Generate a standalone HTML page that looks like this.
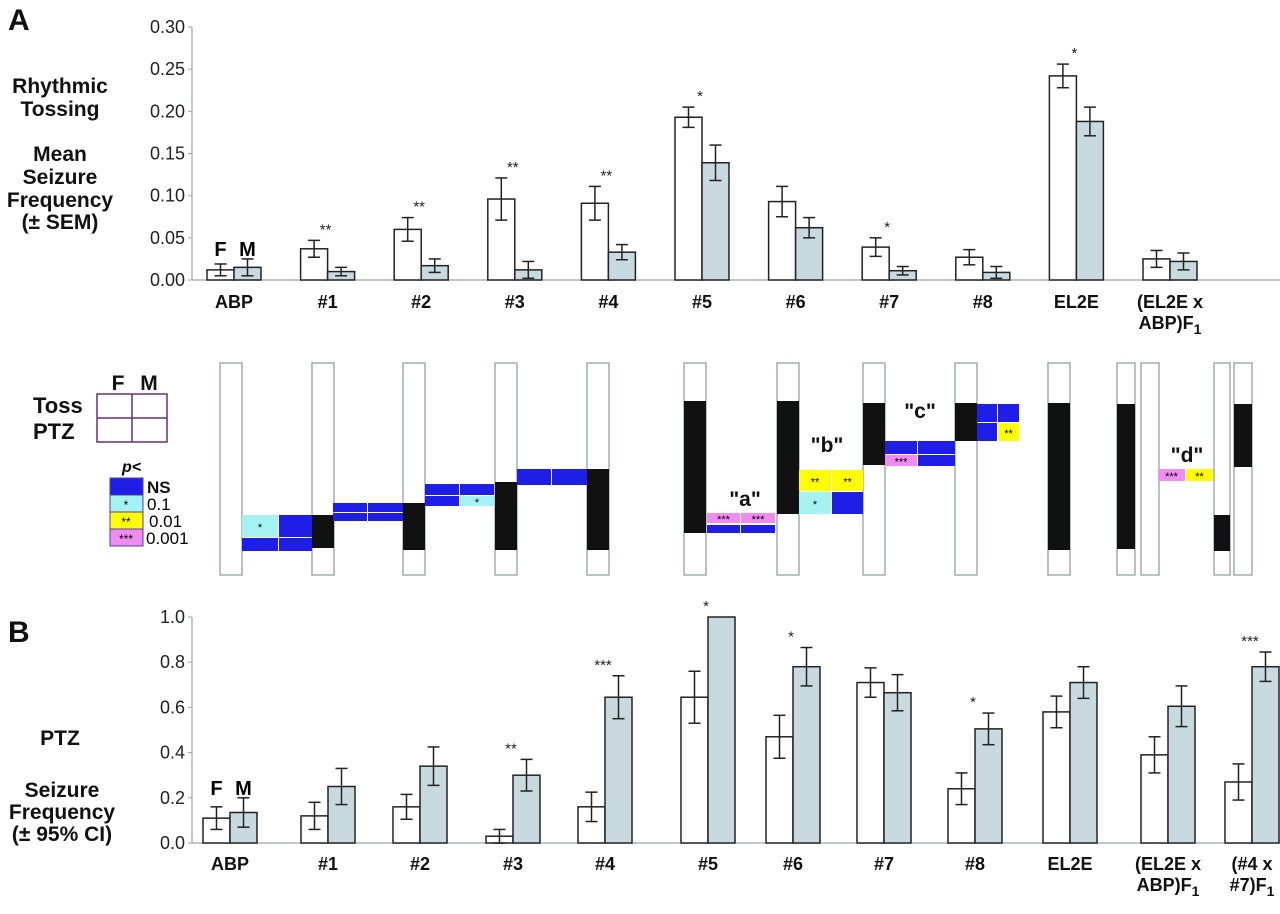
<!DOCTYPE html>
<html><head><meta charset="utf-8"><style>
body{margin:0;background:#fff;}
svg{display:block;font-family:"Liberation Sans",sans-serif;}
.t{font-weight:bold;fill:#111;}
</style></head><body>
<svg id="fig" width="1280" height="914" viewBox="0 0 1280 914">
<text x="8" y="30" class="t" font-size="30">A</text>
<text x="8" y="642" class="t" font-size="30">B</text>
<g class="t" font-size="21" text-anchor="middle">
<text x="60" y="93">Rhythmic</text><text x="60" y="116">Tossing</text>
<text x="60" y="161">Mean</text><text x="60" y="184">Seizure</text><text x="60" y="207">Frequency</text><text x="60" y="229">(± SEM)</text></g>
<g class="t" font-size="21" text-anchor="middle">
<text x="60" y="745">PTZ</text><text x="62" y="797">Seizure</text><text x="62" y="819">Frequency</text><text x="62" y="841">(± 95% CI)</text></g>
<g id="gA"></g><g id="gB"></g><g id="gM"></g>
<g>
<text x="118" y="390" class="t" font-size="21" text-anchor="middle">F</text><text x="149" y="390" class="t" font-size="21" text-anchor="middle">M</text>
<text x="33" y="413" class="t" font-size="22">Toss</text><text x="33" y="439" class="t" font-size="22">PTZ</text>
<rect x="97" y="394" width="70" height="48" fill="none" stroke="#63307a" stroke-width="1.5"/>
<line x1="132" y1="394" x2="132" y2="442" stroke="#63307a" stroke-width="1.5"/>
<line x1="97" y1="418" x2="167" y2="418" stroke="#63307a" stroke-width="1.5"/>
<text x="122" y="472" font-size="16" font-style="italic" font-weight="bold">p&lt;</text>
<rect x="110" y="478" width="33" height="17" fill="#1e1ee6" stroke="#5040a0"/><text x="147" y="493" class="t" font-size="17">NS</text>
<rect x="110" y="495" width="33" height="17" fill="#a4f2f2" stroke="#5040a0"/><text x="126" y="509" font-size="12" text-anchor="middle">*</text><text x="147" y="510" font-size="17">0.1</text>
<rect x="110" y="512" width="33" height="17" fill="#ffff00" stroke="#5040a0"/><text x="126" y="526" font-size="12" text-anchor="middle">**</text><text x="149" y="527" font-size="17">0.01</text>
<rect x="110" y="529" width="33" height="17" fill="#f08cf0" stroke="#5040a0"/><text x="126" y="543" font-size="12" text-anchor="middle">***</text><text x="146" y="544" font-size="17">0.001</text>
</g>
</svg>
<script>
const catsA=["ABP","#1","#2","#3","#4","#5","#6","#7","#8","EL2E","(EL2E x|ABP)F1"];
const femA=[0.012,0.037,0.060,0.096,0.091,0.193,0.093,0.039,0.027,0.242,0.025];
const femErrA=[0.007,0.010,0.014,0.025,0.020,0.012,0.018,0.011,0.009,0.014,0.010];
const maleA=[0.015,0.010,0.017,0.012,0.033,0.139,0.062,0.011,0.009,0.188,0.022];
const maleErrA=[0.010,0.005,0.008,0.010,0.009,0.021,0.012,0.005,0.007,0.017,0.010];
const starsA=["","**","**","**","**","*","","*","","*",""];
const ticksA=["0.00","0.05","0.10","0.15","0.20","0.25","0.30"];
const catsB=["ABP","#1","#2","#3","#4","#5","#6","#7","#8","EL2E","(EL2E x|ABP)F1","(#4 x|#7)F1"];
const femB=[0.11,0.12,0.16,0.03,0.16,0.645,0.47,0.71,0.24,0.58,0.39,0.27];
const femErrB=[0.05,0.06,0.055,0.03,0.065,0.115,0.095,0.065,0.07,0.07,0.08,0.08];
const maleB=[0.135,0.25,0.34,0.30,0.645,1.0,0.78,0.665,0.505,0.71,0.605,0.78];
const maleErrB=[0.065,0.08,0.085,0.07,0.095,0,0.085,0.08,0.07,0.07,0.09,0.065];
const starsB=["","","","**","***","*","*","","*","","","***"];
const ticksB=["0.0","0.2","0.4","0.6","0.8","1.0"];

const NS="http://www.w3.org/2000/svg";
function mk(p,tag,at,txt){const e=document.createElementNS(NS,tag);for(const k in at)e.setAttribute(k,at[k]);if(txt!==undefined)e.textContent=txt;p.appendChild(e);return e;}

function chart(g,cats,fem,femErr,male,maleErr,stars,ticks,y0,y1,vmax,centers,bw,labelY,fm){
  const y=v=>y0-(v/vmax)*(y0-y1);
  const ax=192;
  const axis=mk(g,'line',{x1:ax,y1:y1,x2:ax,y2:y0,stroke:'#9aa8b0','stroke-width':1.2});
  
  
  const base=mk(g,'line',{x1:ax,y1:y0,x2:1280,y2:y0,stroke:'#9aa8b0','stroke-width':1.2});
  
  
  ticks.forEach((t,i)=>{
    const v=parseFloat(t);
    const tl=mk(g,'text',{x:185,y:y(v)+6,'font-size':18,'text-anchor':'end',fill:'#222'},t);
    
    
    mk(g,'line',{x1:ax-4,y1:y(v),x2:ax,y2:y(v),stroke:'#9aa8b0'});
  });
  cats.forEach((c,i)=>{
    const cx=centers(i);
    const series=[[fem[i],femErr[i],cx-bw,'#fff','female'],[male[i],maleErr[i],cx,'#c9d9e0','male']];
    series.forEach(s=>{
      const r=mk(g,'rect',{x:s[2],y:y(s[0]),width:bw,height:y0-y(s[0]),fill:s[3],stroke:'#222','stroke-width':1.5});
      
      
      if(s[1]>0){const m=s[2]+bw/2;
        mk(g,'line',{x1:m,y1:y(s[0]-s[1]),x2:m,y2:y(s[0]+s[1]),stroke:'#222','stroke-width':1.5});
        mk(g,'line',{x1:m-6,y1:y(s[0]+s[1]),x2:m+6,y2:y(s[0]+s[1]),stroke:'#222','stroke-width':1.5});
        mk(g,'line',{x1:m-6,y1:y(s[0]-s[1]),x2:m+6,y2:y(s[0]-s[1]),stroke:'#222','stroke-width':1.5});}
    });
    if(stars[i]){const top=Math.max(fem[i]+femErr[i],male[i]+maleErr[i]);
      const st=mk(g,'text',{x:cx-2,y:y(top)-6,'font-size':15,'text-anchor':'middle',fill:'#222'},stars[i]);
      
      }
    const parts=c.split('|');
    parts.forEach((p,j)=>{
      const t=mk(g,'text',{x:cx,y:labelY+j*21,'font-size':18,'font-weight':'bold','text-anchor':'middle',fill:'#111'});
      if(p.endsWith('F1')){t.textContent=p.slice(0,-1);mk(t,'tspan',{dy:5,'font-size':14},'1');}else t.textContent=p;
      
      
    });
  });
  mk(g,'text',{x:centers(0)-bw/2,y:y(fem[0]+femErr[0])-fm,'font-size':20,'font-weight':'bold','text-anchor':'middle'},'F');
  mk(g,'text',{x:centers(0)+bw/2,y:y(fem[0]+femErr[0])-fm,'font-size':20,'font-weight':'bold','text-anchor':'middle'},'M');
}
chart(document.getElementById('gA'),catsA,femA,femErrA,maleA,maleErrA,starsA,ticksA,280,27,0.30,i=>234+i*93.6,27,308,8);
const cB=[230,328,420,513,605,708,793,884,975,1070,1168,1252];
chart(document.getElementById('gB'),catsB,femB,femErrB,maleB,maleErrB,starsB,ticksB,843,617,1.0,i=>cB[i],27,870,12);

/* middle chromosome diagram */
const gM=document.getElementById('gM');
const colX=[220,312,403,495,587,684,777,863,955,1048,1117,1141,1214,1234];
const colW=[22,22,22,22,22,22,22,22,22,22,18,18,16,18];
const blkTop=[0,515,503,482,469,401,401,403,403,403,404,0,515,404];
const blkBot=[0,548,550,550,550,533,514,465,441,550,549,0,551,467];
colX.forEach((x,i)=>{
  const r=mk(gM,'rect',{x:x,y:363,width:colW[i],height:212,fill:'#fff',stroke:'#8a9aa0','stroke-width':1.2});
  
  
  if(blkBot[i]>0){mk(gM,'rect',{x:x,y:blkTop[i],width:colW[i],height:blkBot[i]-blkTop[i],fill:'#111'});}
});
const col={B:'#1e1ee6',C:'#a4f2f2',Y:'#ffff00',P:'#f08cf0'};
const sym={B:'',C:'*',Y:'**',P:'***'};
const cells=[[242,515,36,22,'C'],[279,515,33,22,'B'],[242,538,36,13,'B'],[279,538,33,13,'B'],
[333,503,34,9,'B'],[368,503,35,9,'B'],[333,513,34,8,'B'],[368,513,35,8,'B'],
[425,484,34,11,'B'],[460,484,34,11,'B'],[425,496,34,10,'B'],[460,496,34,10,'C'],
[517,469,34,8,'B'],[552,469,35,8,'B'],[517,477,34,8,'B'],[552,477,35,8,'B'],
[707,513,33,10,'P'],[741,513,34,10,'P'],[707,525,33,8,'B'],[741,525,34,8,'B'],
[799,470,32,21,'Y'],[832,470,31,21,'Y'],[799,492,32,22,'C'],[832,492,31,22,'B'],
[885,441,32,13,'B'],[918,441,37,13,'B'],[885,455,32,11,'P'],[918,455,37,11,'B'],
[977,404,20,18,'B'],[998,404,21,18,'B'],[977,423,20,18,'B'],[998,423,21,18,'Y'],
[1158,469,27,12,'P'],[1186,469,27,12,'Y']];
cells.forEach(c=>{
  const r=mk(gM,'rect',{x:c[0],y:c[1],width:c[2],height:c[3],fill:col[c[4]]});
  
  
  if(sym[c[4]])mk(gM,'text',{x:c[0]+c[2]/2,y:c[1]+c[3]/2+5,'font-size':11,'text-anchor':'middle'},sym[c[4]]);
});
[['"a"',745,506],['"b"',827,452],['"c"',920,418],['"d"',1187,462]].forEach(l=>{
  const t=mk(gM,'text',{x:l[1],y:l[2],'font-size':21,'font-weight':'bold','text-anchor':'middle',fill:'#111'},l[0]);
  
  
});
</script>
</body></html>
